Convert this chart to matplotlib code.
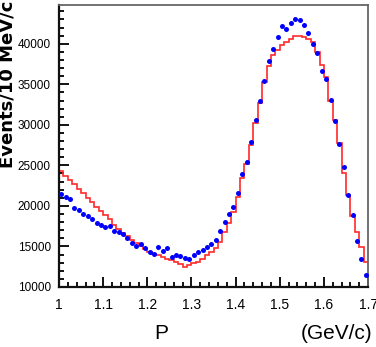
import numpy as np
import matplotlib
matplotlib.use("Agg")
import matplotlib.pyplot as plt
from matplotlib.ticker import MultipleLocator

# momentum bins, 10 MeV/c wide, from 1.0 to 1.7 GeV/c
bin_edges = np.round(np.arange(1.0, 1.7001, 0.01), 3)
bin_centers = (bin_edges[:-1] + bin_edges[1:]) / 2

# data points (blue)
data_counts = [21450, 21150, 20850, 19750, 19500, 19000, 18700, 18400, 17900, 17650,
               17450, 17550, 16900, 16750, 16550, 16000, 15400, 15100, 15350, 14800,
               14350, 14100, 14950, 14450, 14750, 13750, 13950, 13850, 13550, 13400,
               13950, 14300, 14550, 14900, 15250, 15850, 16900, 18000, 18950, 19900,
               21650, 23900, 25450, 27900, 30550, 32950, 35400, 37900, 39400, 40850,
               42150, 41850, 42550, 43000, 42900, 42300, 41300, 40000, 38800, 36700,
               35600, 33100, 30500, 27600, 24800, 21400, 18900, 15700, 13450, 11500]

# MC histogram (red)
mc_counts = [24300, 23750, 23200, 22650, 22100, 21550, 21000, 20450, 19900, 19400,
             18900, 18400, 17700, 17200, 16700, 16250, 15800, 15400, 15000, 14650,
             14300, 14100, 13900, 13700, 13500, 13300, 13100, 12800, 12500, 12700,
             12900, 13100, 13500, 13900, 14300, 14800, 15600, 16800, 17900, 19300,
             21100, 23500, 25200, 27500, 30200, 32700, 35300, 37300, 38600, 39200,
             39800, 40200, 40600, 40900, 40900, 40800, 40600, 40200, 39000, 37400,
             35900, 33000, 30600, 27700, 24000, 21300, 18700, 16800, 14900, 13100]

xtick_labels = ['1', '1.1', '1.2', '1.3', '1.4', '1.5', '1.6', '1.7']

font = ['Liberation Sans', 'DejaVu Sans']

fig = plt.figure(figsize=(3.76, 3.47), dpi=100)
ax = fig.add_axes([0.157, 0.173, 0.822, 0.813])

ax.stairs(mc_counts, bin_edges, color='#ff2a2a', lw=1.2, baseline=None, zorder=2)
ax.plot(bin_centers, data_counts, 'o', color='#0000ff', ms=3.6, mec='none', zorder=3)

ax.set_xlim(1.0, 1.7)
ax.set_ylim(10000, 44800)

ax.xaxis.set_minor_locator(MultipleLocator(0.02))
ax.yaxis.set_major_locator(MultipleLocator(5000))
ax.yaxis.set_minor_locator(MultipleLocator(1000))
ax.set_xticks(np.linspace(1.0, 1.7, len(xtick_labels)))
ax.set_xticklabels(xtick_labels)

ax.tick_params(which='both', direction='in', top=False, right=False, width=1.3)
ax.tick_params(which='major', length=7)
ax.tick_params(which='minor', length=3.5)
ax.tick_params(axis='y', pad=6)
ax.tick_params(axis='x', pad=8)
for lab in ax.get_yticklabels():
    lab.set_family(font)
    lab.set_fontsize(8.5)
for lab in ax.get_xticklabels():
    lab.set_family(font)
    lab.set_fontsize(10)

for side in ['left', 'bottom']:
    ax.spines[side].set_linewidth(1.6)
    ax.spines[side].set_color('#111111')
for side in ['top', 'right']:
    ax.spines[side].set_linewidth(1.3)
    ax.spines[side].set_color('#666666')

fig.text(0.021, 0.997, 'Events/10 MeV/c', rotation=90, ha='center', va='top',
         fontsize=13, fontweight='bold', family='DejaVu Sans')
fig.text(0.43, 0.04, 'P', ha='center', va='center', fontsize=15, family=font)
fig.text(0.99, 0.04, '(GeV/c)', ha='right', va='center', fontsize=15, family=font)

fig.savefig('out.png', dpi=100)
